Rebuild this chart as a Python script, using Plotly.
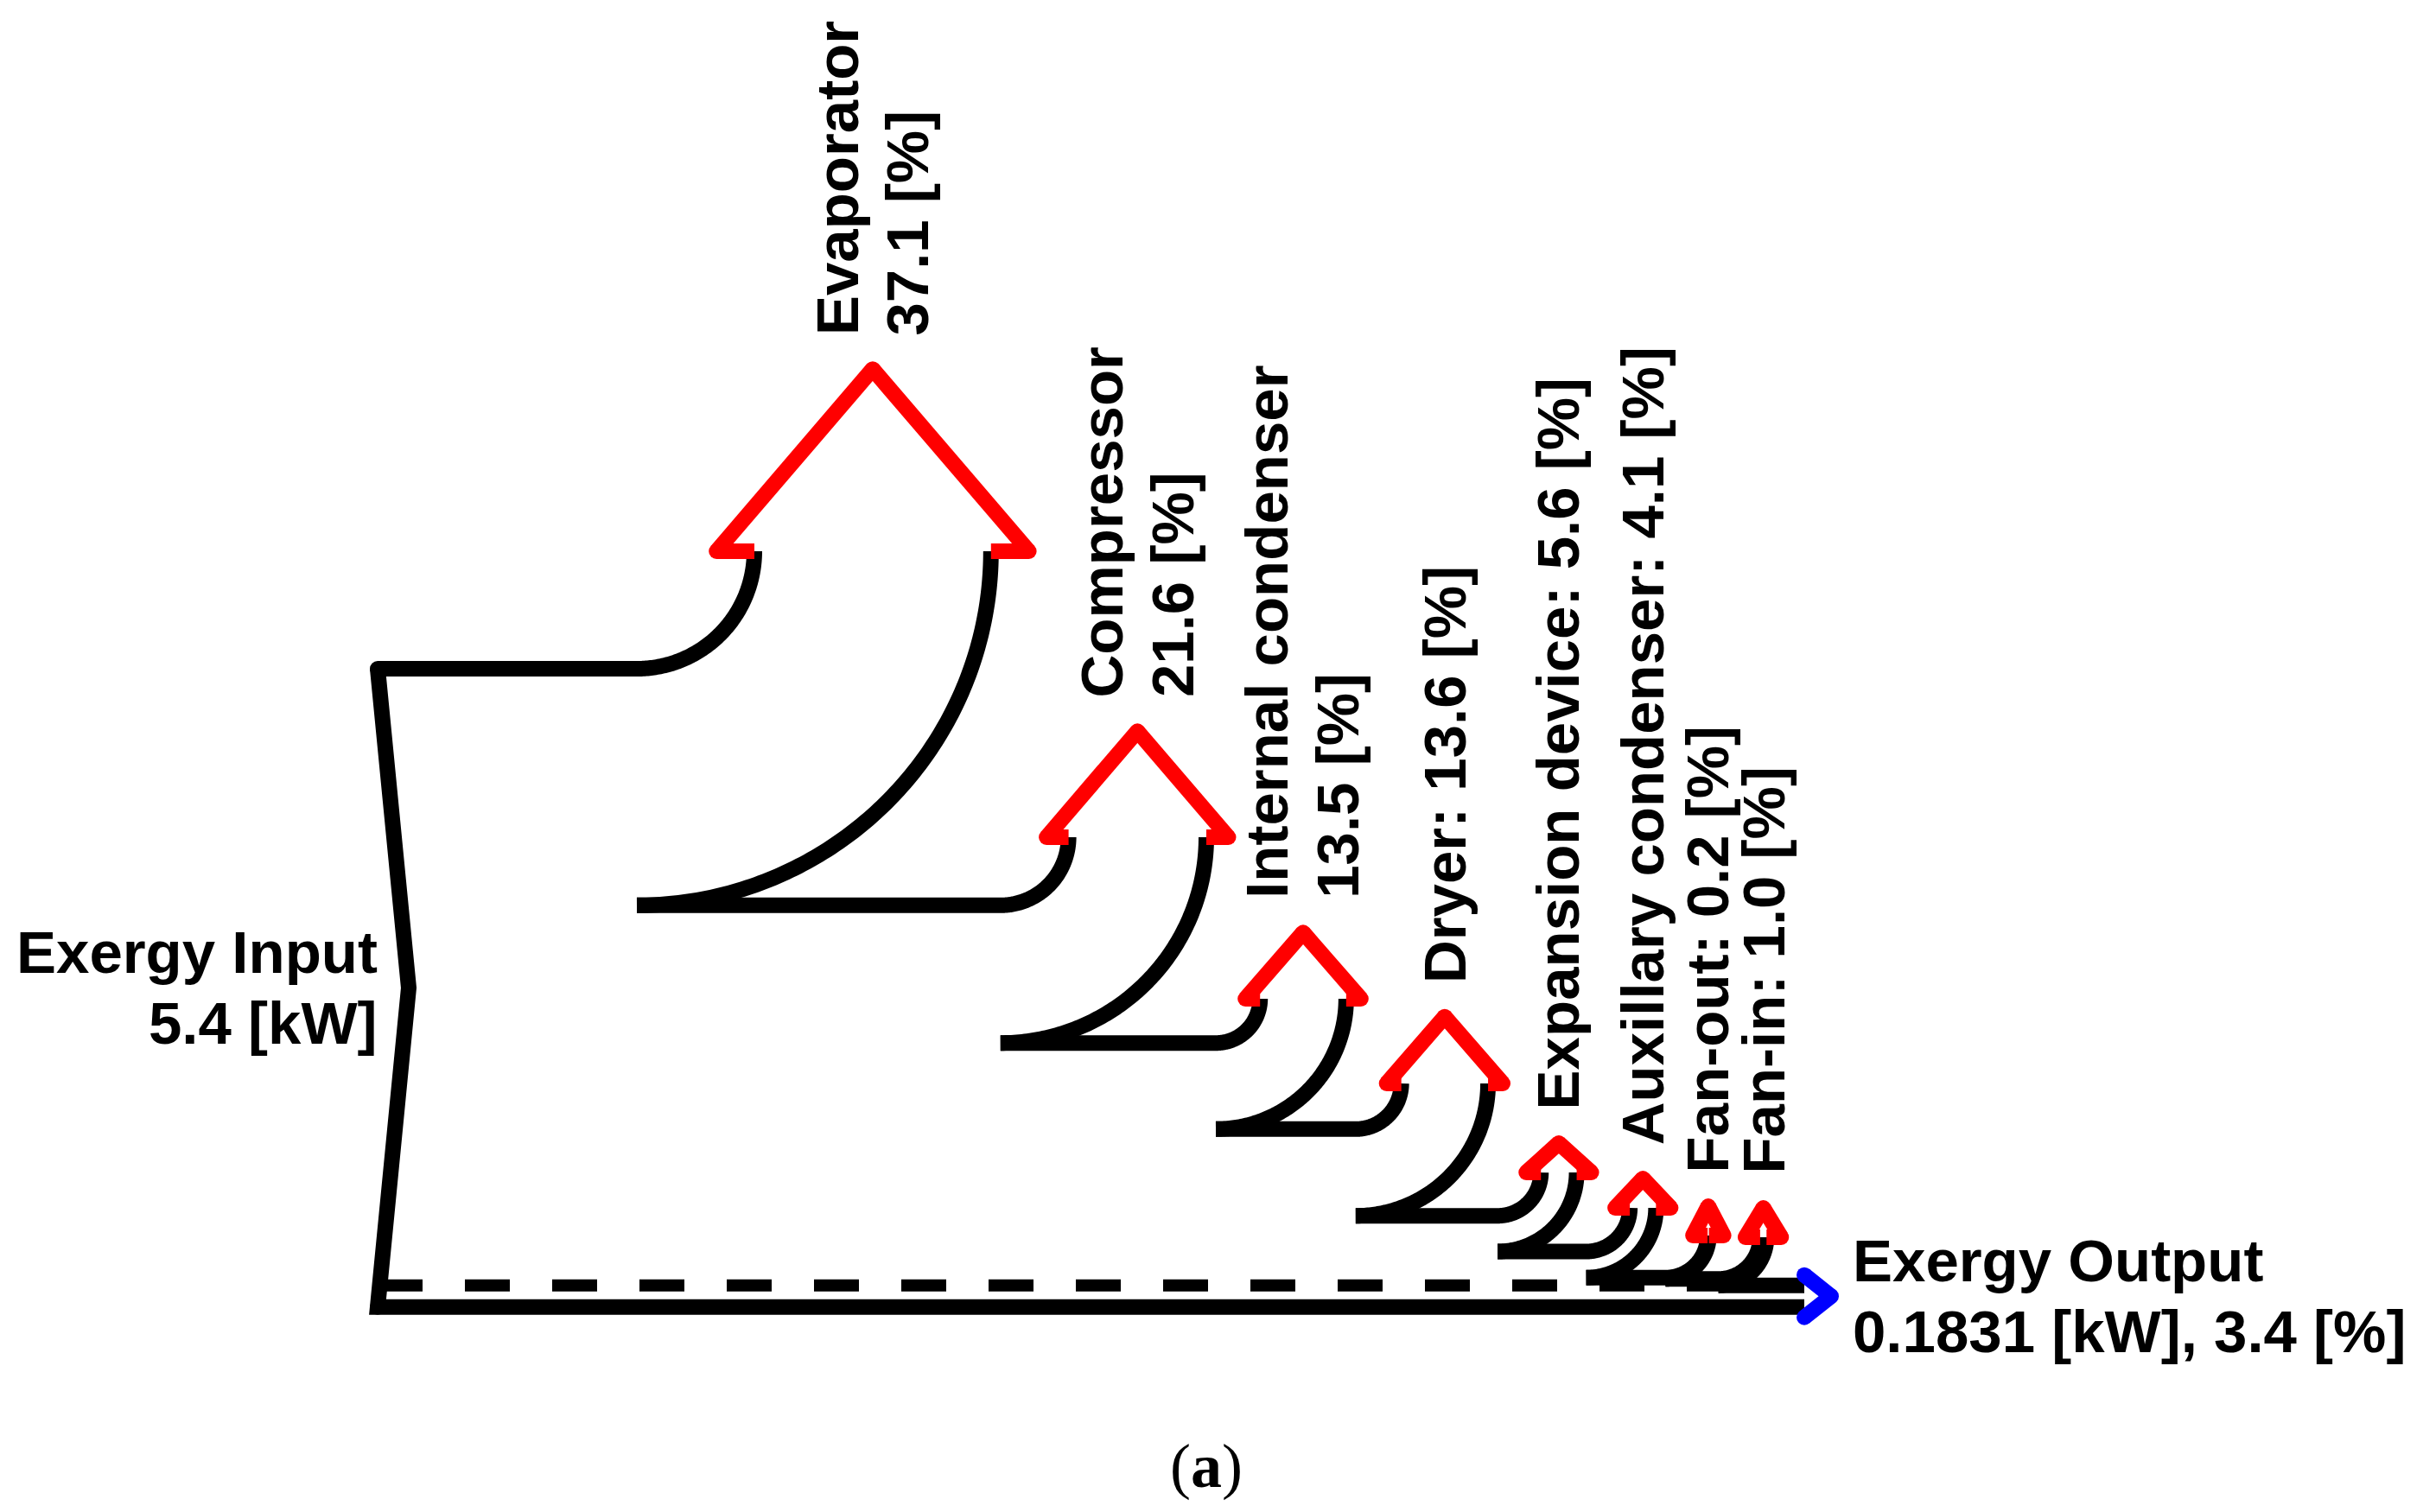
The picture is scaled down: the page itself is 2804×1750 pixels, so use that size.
import numpy as np
import plotly.graph_objects as go

# ---------------- data ----------------
components = ["Evaporator", "Compressor", "Internal condenser", "Dryer",
              "Expansion device", "Auxillary condenser", "Fan-out", "Fan-in"]
destruction_pct = [37.1, 21.6, 13.5, 13.6, 5.6, 4.1, 0.2, 1.0]
two_line_label = [True, True, True, False, False, False, False, False]
input_kw = 5.4
output_kw = 0.1831
output_pct = 3.4

# ---------------- layout parameters ----------------
W, H = 2804, 1750
PAGE_OFF = 8          # default body margin of the html page
X_IN = 437            # left edge of the input band
Y_TOP = 774           # top of the input band
PX_PER_PCT = 7.38     # band width per percent
CENTER0 = 737         # x where the first branch starts to turn
GAP = 11              # gap between successive branch turning points
ARROW_BASE_Y = [638, 969, 1156, 1254, 1357, 1398, 1430, 1432]
X_END = 2088          # end of output band
TIP = 36              # input chevron depth
LW = 18               # stroke width
FONT = "Liberation Sans, Arial, sans-serif"
FS = 69
LINE_OFF = 41

fig = go.Figure()


def add_line(xs, ys, color="black", width=LW, dash=None):
    fig.add_trace(go.Scatter(x=xs, y=ys, mode="lines",
                             line=dict(color=color, width=width, dash=dash, simplify=False),
                             hoverinfo="skip", showlegend=False))


def add_dots(xs, ys, color, size=LW):
    fig.add_trace(go.Scatter(x=xs, y=ys, mode="markers",
                             marker=dict(color=color, size=size, line=dict(width=0)),
                             hoverinfo="skip", showlegend=False))


def arc(cx, cy, r, n=120):
    t = np.linspace(0, np.pi / 2, n)
    return list(cx + r * np.sin(t)), list(cy + r * np.cos(t))


total_pct = sum(destruction_pct) + output_pct
Y_BOT = Y_TOP + total_pct * PX_PER_PCT
Y_MID = (Y_TOP + Y_BOT) / 2

red_x, red_y, red_dx, red_dy = [], [], [], []
annots = []

t = Y_TOP
c = CENTER0
prev_c = X_IN
for i, (name, pct) in enumerate(zip(components, destruction_pct)):
    w = pct * PX_PER_PCT
    b = ARROW_BASE_Y[i]
    rL = t - b
    rR = t + w - b
    ax, ay = arc(c, b, rL)
    add_line([prev_c] + ax, [t] + ay)
    bx, by = arc(c, b, rR)
    add_line(bx, by)
    xL, xR = c + rL, c + rR
    xm = (xL + xR) / 2
    ov = max(0.16 * w, 17)
    hh = max(0.77 * w, 34)
    pts = [(xL, b), (xL - ov, b), (xm, b - hh), (xR + ov, b), (xR, b)]
    for k in range(4):
        red_x += [pts[k][0], pts[k + 1][0], None]
        red_y += [pts[k][1], pts[k + 1][1], None]
    for k in (1, 2, 3):
        red_dx.append(pts[k][0])
        red_dy.append(pts[k][1])
    # labels
    apex = b - hh
    ybot = apex - 37
    if two_line_label[i]:
        lines = [(xm - LINE_OFF, f"<b>{name}</b>"), (xm + LINE_OFF, f"<b>{pct:.1f} [%]</b>")]
    else:
        lines = [(xm, f"<b>{name}: {pct:.1f} [%]</b>")]
    for lx, txt in lines:
        annots.append(dict(x=lx, y=ybot, text=txt, textangle=-90, xanchor="center",
                           yanchor="bottom", showarrow=False,
                           font=dict(family=FONT, size=FS, color="black")))
    prev_c = c
    c = xR + GAP
    t += w

# output band top (solid part) and dashed guide
add_line([X_IN, X_END], [t, t], width=14, dash="52px,49px")
add_line([prev_c, X_END], [t, t])
# input edge + bottom line
add_line([X_IN, X_IN + TIP, X_IN, X_END], [Y_TOP, Y_MID, Y_BOT, Y_BOT])
add_dots([X_IN, X_IN], [Y_TOP, Y_BOT], "black")

# red exergy-destruction arrows
add_line(red_x, red_y, color="#ff0000")
add_dots(red_dx, red_dy, "#ff0000")

# blue output chevron
yc = (t + Y_BOT) / 2
w_out = output_pct * PX_PER_PCT
ch = 0.5 * w_out + 12
cd = 31
add_line([X_END, X_END + cd, None, X_END + cd, X_END],
         [yc - ch, yc, None, yc, yc + ch], color="#0000ff")
add_dots([X_END, X_END + cd, X_END], [yc - ch, yc, yc + ch], "#0000ff")

# input / output labels
annots.append(dict(x=X_IN + 2, y=Y_MID - LINE_OFF, text="<b>Exergy Input</b>",
                   xanchor="right", yanchor="middle", showarrow=False,
                   font=dict(family=FONT, size=FS, color="black")))
annots.append(dict(x=X_IN + 2, y=Y_MID + LINE_OFF, text=f"<b>{input_kw:.1f} [kW]</b>",
                   xanchor="right", yanchor="middle", showarrow=False,
                   font=dict(family=FONT, size=FS, color="black")))
annots.append(dict(x=2142, y=yc - LINE_OFF, text="<b>Exergy Output</b>",
                   xanchor="left", yanchor="middle", showarrow=False,
                   font=dict(family=FONT, size=FS, color="black")))
annots.append(dict(x=2142, y=yc + LINE_OFF,
                   text=f"<b>{output_kw:.4f} [kW], {output_pct:.1f} [%]</b>",
                   xanchor="left", yanchor="middle", showarrow=False,
                   font=dict(family=FONT, size=FS, color="black")))
annots.append(dict(x=1396, y=1697, text="(<b>a</b>)", xanchor="center", yanchor="middle",
                   showarrow=False,
                   font=dict(family="Liberation Serif, Times New Roman, serif", size=72,
                             color="black")))

for a in annots:
    a["xref"] = "x"
    a["yref"] = "y"

fig.update_layout(
    width=W, height=H,
    margin=dict(l=0, r=0, t=0, b=0),
    paper_bgcolor="white", plot_bgcolor="white",
    showlegend=False,
    annotations=annots,
    xaxis=dict(range=[PAGE_OFF, W + PAGE_OFF], visible=False, fixedrange=True),
    yaxis=dict(range=[H + PAGE_OFF, PAGE_OFF], visible=False, fixedrange=True),
)

fig.write_html("out.html")
